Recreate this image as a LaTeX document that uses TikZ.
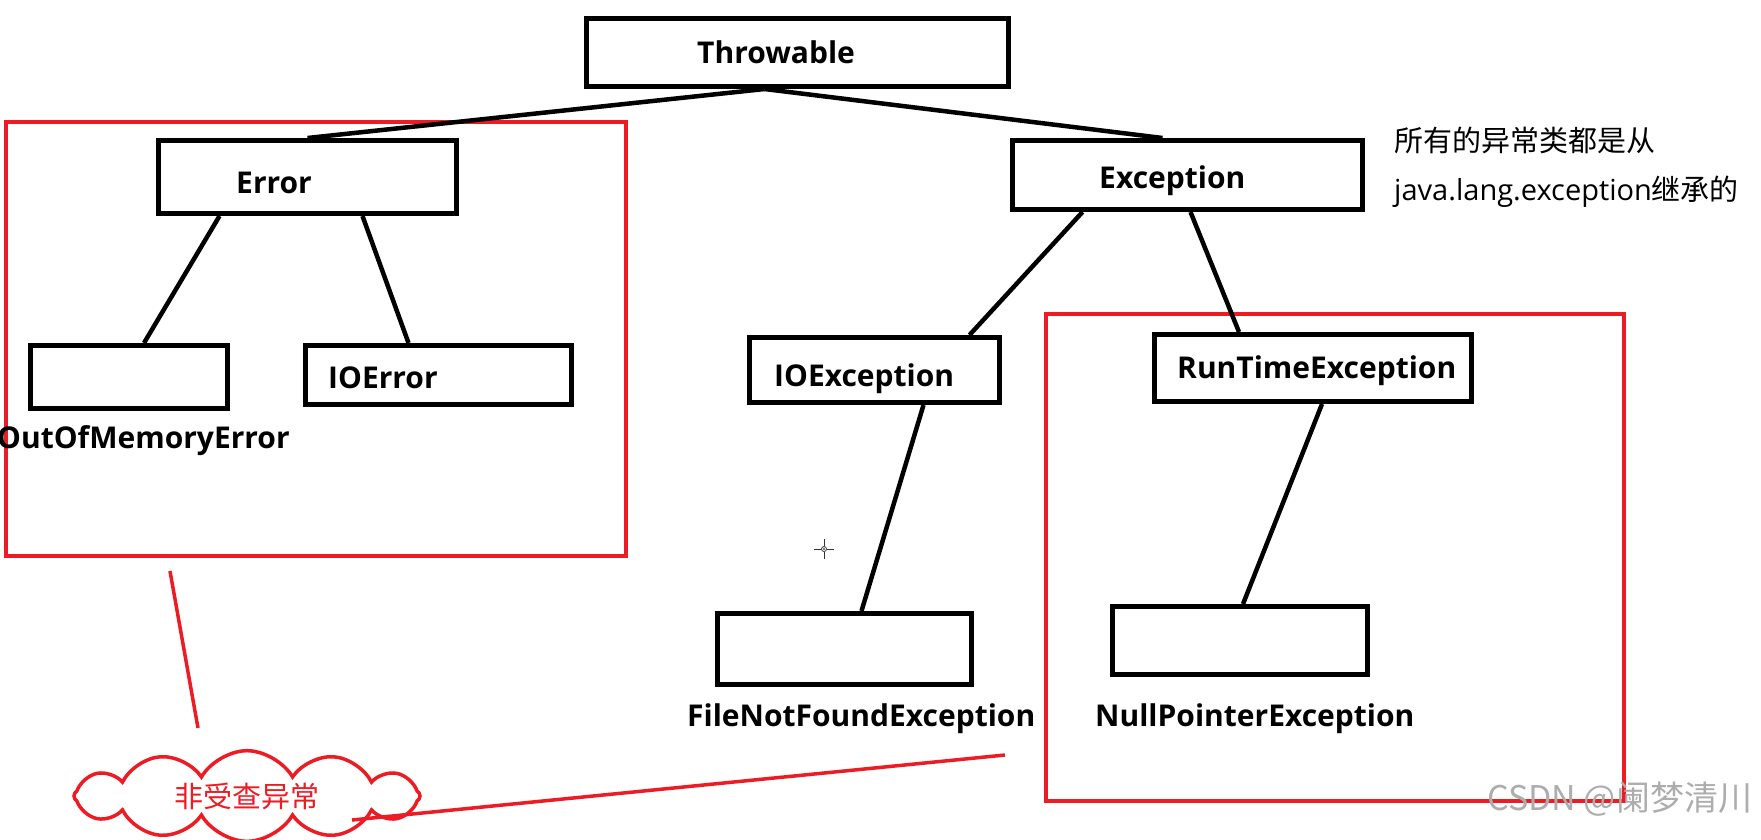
\documentclass[tikz,border=0pt]{standalone}
\usepackage{fontspec}
\setmainfont{Open Sans}
\newfontfamily\cjk{Noto Sans CJK SC}
\usetikzlibrary{shapes.symbols}
\definecolor{paintred}{HTML}{ED1C24}
\begin{document}
\begin{tikzpicture}[x=1pt,y=-1pt,
  box/.style={draw=black, line width=5pt, rectangle, inner sep=0pt},
  redbox/.style={draw=paintred, line width=4.5pt, rectangle, inner sep=0pt},
  link/.style={draw=black, line width=4.5pt},
  redlink/.style={draw=paintred, line width=3.5pt},
  lbl/.style={font=\fontsize{30}{36}\selectfont\bfseries, inner sep=0pt, anchor=mid west},
  note/.style={font=\fontsize{29}{35}\selectfont, inner sep=0pt, anchor=mid west}]
\useasboundingbox[fill=white] (0,0) rectangle (1761,839);

% red regions
\node[redbox, minimum width=620pt, minimum height=434pt] (redL) at (316,339) {};
\node[redbox, minimum width=578pt, minimum height=487pt] (redR) at (1335,557.5) {};

% boxes
\node[box, minimum width=422pt, minimum height=68pt] (thr) at (797.5,52.5) {};
\node[box, minimum width=298pt, minimum height=73pt] (err) at (307.5,177) {};
\node[box, minimum width=350pt, minimum height=69pt] (exc) at (1187.5,175) {};
\node[box, minimum width=197pt, minimum height=63pt] (oom) at (129,377) {};
\node[box, minimum width=266pt, minimum height=59pt] (ioerr) at (438.5,375) {};
\node[box, minimum width=250pt, minimum height=65pt] (ioex) at (874.5,370) {};
\node[box, minimum width=317pt, minimum height=67pt] (rte) at (1313,368) {};
\node[box, minimum width=254pt, minimum height=71pt] (fnf) at (844.5,649) {};
\node[box, minimum width=255pt, minimum height=68pt] (npe) at (1240,640.5) {};

% labels
\node[lbl] (tthr) at (697,61) {Throwable};
\node[lbl] (terr) at (236,191) {Error};
\node[lbl] (texc) at (1099,186) {Exception};
\node[lbl] (toom) at (-3,446) {OutOfMemoryError};
\node[lbl] (tioerr) at (328,386) {IOError};
\node[lbl] (tioex) at (774,384) {IOException};
\node[lbl] (trte) at (1177,376) {RunTimeException};
\node[lbl] (tfnf) at (687,724) {FileNotFoundException};
\node[lbl] (tnpe) at (1095,724) {NullPointerException};

% connectors
\draw[link] ([xshift=-33pt]thr.south) -- (err.north);
\draw[link] ([xshift=-33pt]thr.south) -- ([xshift=-25pt]exc.north);
\draw[link] ([xshift=-88pt]err.south) -- ([xshift=15pt]oom.north);
\draw[link] ([xshift=55pt]err.south) -- ([xshift=-30pt]ioerr.north);
\draw[link] ([xshift=-105pt]exc.south) -- ([xshift=95pt]ioex.north);
\draw[link] ([xshift=3pt]exc.south) -- ([xshift=-74pt]rte.north);
\draw[link] ([xshift=49pt]ioex.south) -- ([xshift=17pt]fnf.north);
\draw[link] ([xshift=9pt]rte.south) -- ([xshift=3pt]npe.north);

% note text
\node[note] (n1) at (1394,149) {{\cjk 所有的异常类都是从}};
\node[note] (n2) at (1394,198) {java.lang.exception{\cjk 继承的}};

% cloud
\node[cloud, draw=paintred, line width=3.5pt, cloud puffs=12, cloud puff arc=120, aspect=3.3,
      minimum width=346pt, minimum height=80pt, inner sep=0pt,
      text=paintred, font=\cjk\fontsize{29}{34}\selectfont] (cld) at (247,796) {非受查异常};
\coordinate (r1) at (170,571);
\coordinate (r2) at (198,728);
\coordinate (r3) at (352,820);
\coordinate (r4) at (1005,755);
\draw[redlink] (r1) -- (r2);
\draw[redlink] (r3) -- (r4);

% cursor mark
\coordinate (cur) at (824,549);
\draw[line width=1pt, black!80] ([xshift=-10pt]cur) -- ([xshift=-3pt]cur) ([xshift=3pt]cur) -- ([xshift=10pt]cur)
  ([yshift=-10pt]cur) -- ([yshift=-3pt]cur) ([yshift=3pt]cur) -- ([yshift=10pt]cur);
\draw[line width=0.8pt, black!80] (cur) circle (2.5pt);
\fill[black] (cur) circle (0.8pt);

% watermark
\node[font=\cjk\fontsize{34}{40}\selectfont, text=black!32, inner sep=0pt, anchor=mid west] (wm) at (1487,808) {CSDN @阑梦清川};
\end{tikzpicture}
\end{document}
